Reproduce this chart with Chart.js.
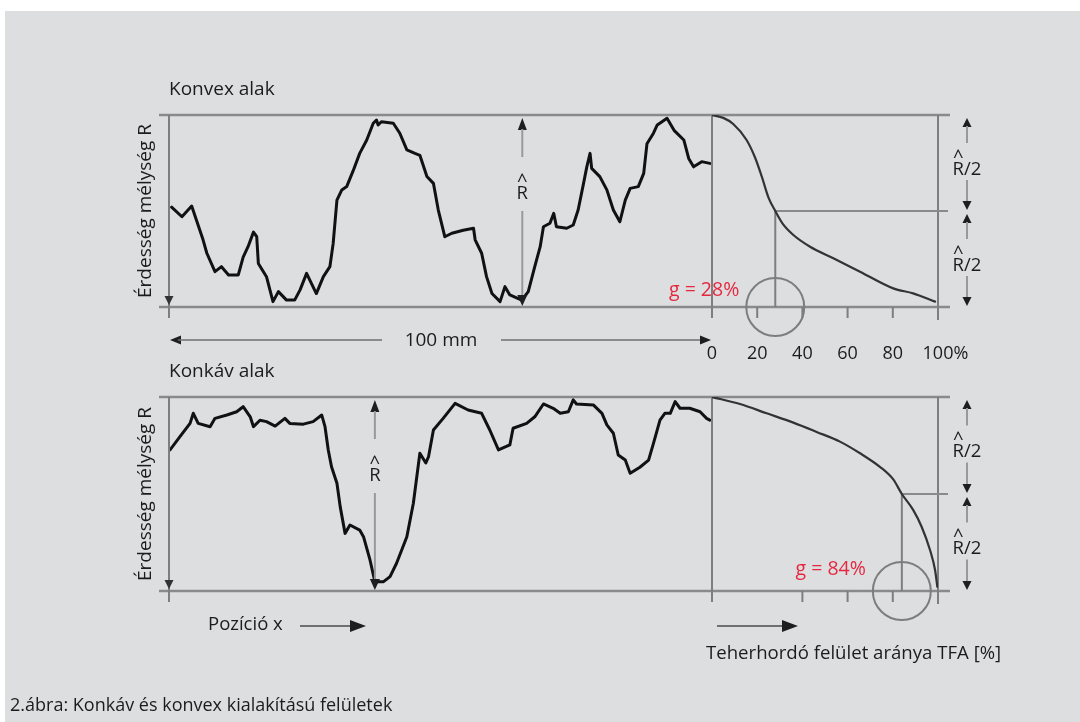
<!DOCTYPE html>
<html lang="hu">
<head>
<meta charset="utf-8">
<title>Konkáv és konvex kialakítású felületek</title>
<script src="https://cdn.jsdelivr.net/npm/chart.js@4.4.1/dist/chart.umd.min.js"></script>
<style>
  html, body { margin: 0; padding: 0; width: 1080px; height: 722px; overflow: hidden; background: #ffffff; }
  #panel { position: absolute; left: 5px; top: 11px; width: 1075px; height: 711px; background: #dddee0; }
  .layer { position: absolute; left: 0; top: 0; width: 1080px; height: 722px; }
</style>
</head>
<body>
<div id="panel"></div>
<canvas id="convexProfile" class="layer" width="1080" height="722"></canvas>
<canvas id="convexTfa" class="layer" width="1080" height="722"></canvas>
<canvas id="concaveProfile" class="layer" width="1080" height="722"></canvas>
<canvas id="concaveTfa" class="layer" width="1080" height="722"></canvas>
<script>
// ---- Profile data: position along the 100 mm trace, height in % of R (0 = deepest, 100 = highest)
const convexPos = [0.3, 2.2, 4, 4.9, 6.1, 6.8, 8.3, 9.5, 10.8, 12.6, 13.5, 14.4, 15.4, 16, 16.3, 17.8, 19, 20, 21.5, 23,
  24, 25.2, 27, 28.3, 29.5, 30.1, 30.8, 31.7, 32.6, 33.8, 35, 36.3, 37.5, 38.1, 38.4, 39, 41.2, 42.4, 43.7, 45.2,
  46.1, 47.4, 48.6, 49.5, 50.7, 52, 54.1, 56, 56.3, 57.5, 58.4, 59.4, 60.9, 61.8, 62.7, 64.9, 66.1, 67.3, 68.3, 68.9,
  70.1, 70.8, 71.3, 73.2, 74.4, 75.3, 76.3, 76.9, 77.5, 77.8, 79.3, 80.6, 81.8, 83, 84, 84.9, 86.4, 87.4, 88, 89.2,
  89.9, 91.7, 93, 94.8, 95.7, 96.6, 98.1, 99.6];
const convexDepth = [52, 47, 52.6, 45, 35, 28, 18.4, 21, 16.7, 16.7, 26, 31.4, 39, 36.6, 22.7, 15.8, 2.8, 8, 3.6, 3.6,
  8.9, 17.5, 7, 15.8, 21, 33, 55.7, 61, 62.7, 71, 80, 87, 95.7, 97.4, 94.8, 96.5, 95.7, 90.5, 81.8, 80,
  79, 68, 64.4, 50.5, 36.6, 38.4, 40, 41, 35, 28, 15.8, 7, 2.8, 10.6, 6.3, 3.6, 8, 21, 31.4, 41.8,
  43.6, 48.8, 41.8, 41, 42.7, 50.5, 64.4, 73, 80, 72.2, 67.9, 61, 50.5, 44.4, 55.7, 61.8, 62.7, 69.6, 85, 90.5,
  94.8, 98.3, 92, 87, 77.4, 73, 75.7, 74.8];

const concavePos = [0, 1.8, 3.7, 4.3, 5.2, 7.4, 8.3, 10.5, 12.3, 13.5, 14.8, 15.4, 16.6, 17.8, 19.4, 21.2, 22.1, 24.6, 26.4, 28,
  28.6, 29.2, 29.8, 30.8, 31.4, 32.3, 33.2, 35, 35.7, 36.9, 37.8, 39.4, 40.6, 41.8, 43.7, 44.9, 46.1, 47.2, 47.7, 48.6,
  50.4, 52.6, 55, 57.5, 59, 60.6, 62.7, 63.3, 65.8, 67.3, 68.9, 70.7, 72, 73.5, 74.4, 75, 78.1, 79.7, 80.6, 81.8,
  82.7, 84, 84.9, 86.7, 88.3, 89.2, 90.4, 91.3, 92.3, 93.2, 94.1, 95.9, 97.8, 99, 99.6];
const concaveDepth = [72.7, 79.5, 86.4, 91.6, 86.4, 84.7, 89, 90.7, 92.4, 95, 89.8, 84.7, 88, 87.3, 85, 89, 86.4, 86, 87.3, 90.7,
  84.7, 72.7, 64, 55.5, 43.5, 29.7, 34, 31.4, 28, 16, 4.8, 4.8, 7.4, 14.3, 28, 45.2, 71, 66, 69.2, 83,
  89, 96.7, 93.3, 91.6, 83, 72.7, 75.3, 83.9, 86.4, 89.8, 96.4, 94.2, 91.6, 92.4, 98.5, 96.4, 95.9, 91.6, 85.6, 81.3,
  70.1, 67.5, 60.7, 63.8, 67.5, 76.1, 88.1, 91.6, 91.6, 97.6, 94.2, 94.2, 92.4, 89, 88.1];

// ---- Bearing-area (Abbott) curves: TFA share in %, height in % of R
const convexTfaShare = [0, 5, 9.4, 15.3, 19, 22, 25, 28, 31.5, 36, 43.4, 53.7, 65.5, 80.2, 89, 98.7];
const convexTfaDepth = [100, 98.5, 95.3, 87, 78, 68, 57, 50, 43, 37.5, 31.4, 25.4, 18.4, 9.7, 7.1, 2.8];
const concaveTfaShare = [0, 12.4, 24.2, 36, 46.3, 56.6, 65.5, 74.3, 80.2, 84, 89, 92.8, 96.5, 98.7, 99.7];
const concaveTfaDepth = [100, 96.4, 91.6, 86.8, 82, 77, 71, 64, 57.5, 50, 41.8, 33, 21, 10.8, 2.2];

// ---- Axis ticks and marked values
const tfaTicks = [0, 20, 40, 60, 80, 100];
const convexTickMarks = [20, 40, 60, 80];
const concaveTickMarks = [40, 60, 80];
const gShares = [28, 84];             // TFA share at half of R (convex, concave)
const valleyPositions = [65, 37.8];   // position of the deepest valley (convex, concave)

const FAMILY = "'Open Sans', 'Noto Sans', sans-serif";
const COL = {
  ink: '#1c1c1c', frame: '#8a8a8a', axis: '#7e7e7e', shaft: '#999999', head: '#1e1e1e',
  red: '#e5283f', trace: '#111111', curve: '#333333', dim: '#6f6f6f'
};

function fontOf(size) { return size + 'px ' + FAMILY; }

// Text whose cap-height centre sits on cy
function text(ctx, str, x, cy, size, align, color) {
  ctx.font = fontOf(size);
  ctx.fillStyle = color || COL.ink;
  ctx.textAlign = align || 'left';
  ctx.textBaseline = 'alphabetic';
  ctx.fillText(str, x, cy + size * 0.357);
}

// Symbol with a circumflex above its first letter (R̂, R̂/2)
function hatText(ctx, str, x, cy, size) {
  ctx.font = fontOf(size);
  const w = ctx.measureText(str).width;
  const wFirst = ctx.measureText(str[0]).width;
  const left = x - w / 2;
  text(ctx, str, left, cy, size, 'left');
  text(ctx, '^', left + wFirst / 2, cy - 12, size, 'center');
}

function hLine(ctx, x1, x2, y, color, w) {
  ctx.beginPath(); ctx.strokeStyle = color; ctx.lineWidth = w;
  ctx.moveTo(x1, y); ctx.lineTo(x2, y); ctx.stroke();
}
function vLine(ctx, x, y1, y2, color, w) {
  ctx.beginPath(); ctx.strokeStyle = color; ctx.lineWidth = w;
  ctx.moveTo(x, y1); ctx.lineTo(x, y2); ctx.stroke();
}
// Filled arrow head with its tip at (x, y)
function head(ctx, x, y, dir, len, half, color) {
  ctx.beginPath(); ctx.fillStyle = color || COL.head;
  ctx.moveTo(x, y);
  if (dir === 'down') { ctx.lineTo(x - half, y - len); ctx.lineTo(x + half, y - len); }
  if (dir === 'up') { ctx.lineTo(x - half, y + len); ctx.lineTo(x + half, y + len); }
  if (dir === 'left') { ctx.lineTo(x + len, y - half); ctx.lineTo(x + len, y + half); }
  if (dir === 'right') { ctx.lineTo(x - len, y - half); ctx.lineTo(x - len, y + half); }
  ctx.closePath(); ctx.fill();
}

function box(chart) {
  const xs = chart.scales.x, ys = chart.scales.y;
  return {
    xs, ys,
    L: xs.getPixelForValue(xs.min), R: xs.getPixelForValue(xs.max),
    T: ys.getPixelForValue(ys.max), B: ys.getPixelForValue(ys.min)
  };
}

// Frame, depth axis, R̂ arrow and labels around a roughness profile
function profileDecor(opt) {
  return {
    id: 'profileDecor',
    beforeDatasetsDraw(chart) {
      const ctx = chart.ctx, { L, R, T, B } = box(chart);
      ctx.save();
      hLine(ctx, L - 11, R, T, COL.frame, 2.4);
      hLine(ctx, L - 11, R, B, COL.frame, 2.4);
      vLine(ctx, L - 1, T, B + 11, COL.axis, 2);
      ctx.restore();
    },
    afterDatasetsDraw(chart) {
      const ctx = chart.ctx, { xs, L, R, T, B } = box(chart);
      ctx.save();
      head(ctx, L - 1, B - 2, 'down', 9, 4.5, '#333333');

      // R̂ : full profile height at the deepest valley
      const vx = xs.getPixelForValue(opt.valley);
      head(ctx, vx, T + 3, 'up', 12, 4.5);
      vLine(ctx, vx, T + 14, T + 42, COL.shaft, 2);
      hatText(ctx, 'R', vx, T + 77, 18.5);
      vLine(ctx, vx, T + 96, B - 10, COL.shaft, 2);
      head(ctx, vx, B - 1, 'down', 11, 5);

      text(ctx, opt.title, L - 1, T - 27, 19, 'left');

      ctx.save();
      ctx.translate(144, (T + B) / 2);
      ctx.rotate(-Math.PI / 2);
      text(ctx, 'Érdesség mélység R', 0, 0, 19, 'center');
      ctx.restore();

      if (opt.lengthRow) {
        const y = B + 33, xc = xs.getPixelForValue((xs.min + xs.max) / 2);
        head(ctx, L, y, 'left', 11, 4.5);
        hLine(ctx, L + 8, xc - 59, y, COL.dim, 1.6);
        text(ctx, (xs.max - xs.min) + ' mm', xc, y - 1, 19, 'center');
        hLine(ctx, xc + 60, R - 8, y, COL.dim, 1.6);
        head(ctx, R - 1, y, 'right', 11, 4.5);
      }
      if (opt.positionRow) {
        const y = B + 33;
        text(ctx, 'Pozíció x', L + 38, y - 1, 18.5, 'left');
        hLine(ctx, L + 130, L + 182, y + 2, COL.dim, 1.8);
        head(ctx, L + 196, y + 2, 'right', 16, 6);
        text(ctx, '2.ábra: Konkáv és konvex kialakítású felületek', 10, 705, 18, 'left');
      }
      ctx.restore();
    }
  };
}

// Paired R̂/2 arrows between two heights
function halfArrow(ctx, x, yTop, yBot) {
  const mid = (yTop + yBot) / 2;
  head(ctx, x, yTop + 3, 'up', 9, 4.5);
  vLine(ctx, x, yTop + 11, mid - 20, COL.shaft, 2);
  hatText(ctx, 'R/2', x, mid + 5, 18.5);
  vLine(ctx, x, mid + 17, yBot - 9, COL.shaft, 2);
  head(ctx, x, yBot - 1, 'down', 9, 4.5);
}

// Frame, ticks, g marker and R̂/2 arrows around a bearing-area curve
function tfaDecor(opt) {
  return {
    id: 'tfaDecor',
    beforeDatasetsDraw(chart) {
      const ctx = chart.ctx, { xs, ys, L, R, T, B } = box(chart);
      ctx.save();
      hLine(ctx, L, R + 12, T, COL.frame, 2.4);
      hLine(ctx, L, R + 12, B, COL.frame, 2.4);
      vLine(ctx, L, T, B + 11, COL.axis, 2);
      vLine(ctx, R, T, B + 13, COL.axis, 2);
      opt.marks.forEach(v => {
        const px = xs.getPixelForValue(v);
        vLine(ctx, px, B, B + 11, COL.axis, 2);
      });
      const gx = xs.getPixelForValue(opt.g), hy = ys.getPixelForValue(50);
      hLine(ctx, gx, R + 10, hy, COL.frame, 2.2);
      vLine(ctx, gx, hy, B, COL.axis, 2);
      ctx.beginPath(); ctx.strokeStyle = '#7d7d7d'; ctx.lineWidth = 2;
      ctx.arc(gx, B, 29, 0, Math.PI * 2); ctx.stroke();
      ctx.restore();
    },
    afterDatasetsDraw(chart) {
      const ctx = chart.ctx, { xs, ys, L, R, T, B } = box(chart);
      ctx.save();
      const gx = xs.getPixelForValue(opt.g);
      text(ctx, 'g = ' + opt.g + '%', gx - 36, B + opt.gDy, 19.5, 'right', COL.red);
      const hy = ys.getPixelForValue(50);
      halfArrow(ctx, R + 29, T, hy);
      halfArrow(ctx, R + 29, hy, B);

      if (opt.tickLabels) {
        tfaTicks.forEach((v, i) => {
          const px = xs.getPixelForValue(v);
          if (i === tfaTicks.length - 1) {
            ctx.font = fontOf(18);
            const w = ctx.measureText(String(v)).width;
            text(ctx, v + '%', px - w / 2, B + 46, 18, 'left');
          } else {
            text(ctx, String(v), px, B + 46, 18, 'center');
          }
        });
      }
      if (opt.axisTitle) {
        const y = B + 35;
        hLine(ctx, L + 5, L + 72, y, COL.dim, 1.8);
        head(ctx, L + 86, y, 'right', 16, 6);
        text(ctx, 'Teherhordó felület aránya TFA [%]', L - 6, B + 61, 18.6, 'left');
      }
      ctx.restore();
    }
  };
}

function points(xs, ys) { return xs.map((x, i) => ({ x, y: ys[i] })); }

function makeChart(id, padding, series, style, decor) {
  return new Chart(document.getElementById(id), {
    type: 'line',
    data: {
      datasets: [{
        data: series,
        borderColor: style.color,
        borderWidth: style.width,
        borderJoinStyle: 'round',
        borderCapStyle: 'round',
        pointRadius: 0,
        tension: 0,
        cubicInterpolationMode: style.smooth ? 'monotone' : 'default',
        fill: false
      }]
    },
    options: {
      responsive: false,
      animation: false,
      devicePixelRatio: 1,
      events: [],
      layout: { padding },
      scales: {
        x: { type: 'linear', min: 0, max: 100, display: false },
        y: { type: 'linear', min: 0, max: 100, display: false }
      },
      plugins: { legend: { display: false }, tooltip: { enabled: false }, title: { display: false } }
    },
    plugins: [decor]
  });
}

function build() {
  const W = 1080, H = 722;
  const rowTop = { top: 115, bottom: H - 307 };
  const rowBottom = { top: 397, bottom: H - 591 };
  const profileX = { left: 170, right: W - 712 };
  const tfaX = { left: 712, right: W - 938 };
  const traceStyle = { color: COL.trace, width: 3, smooth: false };
  const curveStyle = { color: COL.curve, width: 2.2, smooth: true };

  makeChart('convexProfile', Object.assign({}, profileX, rowTop), points(convexPos, convexDepth), traceStyle,
    profileDecor({ title: 'Konvex alak', valley: valleyPositions[0], lengthRow: true }));
  makeChart('convexTfa', Object.assign({}, tfaX, rowTop), points(convexTfaShare, convexTfaDepth), curveStyle,
    tfaDecor({ g: gShares[0], gDy: -18, marks: convexTickMarks, tickLabels: true }));
  makeChart('concaveProfile', Object.assign({}, profileX, rowBottom), points(concavePos, concaveDepth), traceStyle,
    profileDecor({ title: 'Konkáv alak', valley: valleyPositions[1], positionRow: true }));
  makeChart('concaveTfa', Object.assign({}, tfaX, rowBottom), points(concaveTfaShare, concaveTfaDepth), curveStyle,
    tfaDecor({ g: gShares[1], gDy: -23, marks: concaveTickMarks, axisTitle: true }));
}

const ready = document.fonts && document.fonts.load
  ? Promise.all([document.fonts.load("18px 'Open Sans'")]).catch(() => null)
  : Promise.resolve();
ready.then(build);
</script>
</body>
</html>
